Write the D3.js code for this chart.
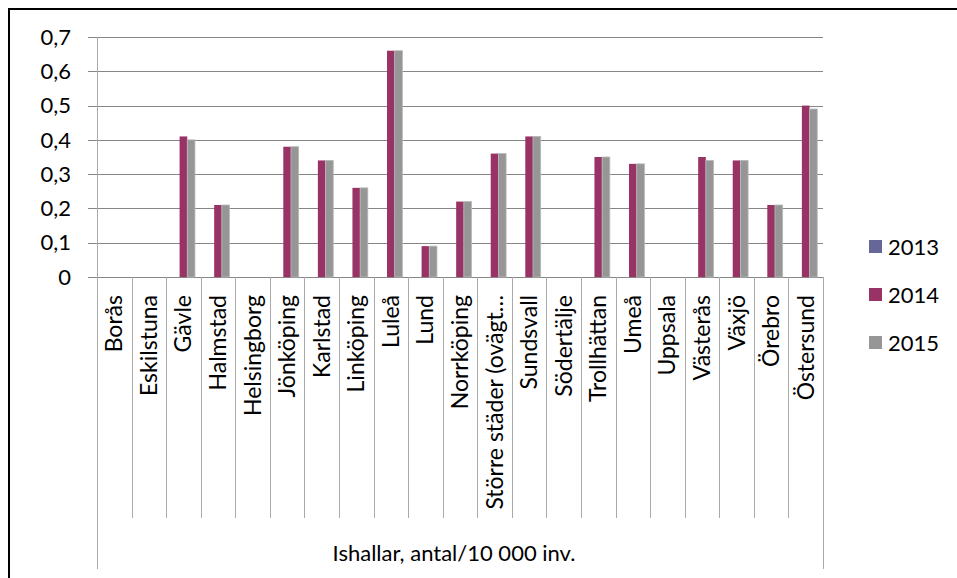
<!DOCTYPE html>
<meta charset="utf-8">
<style>
body { margin: 0; background: #fff; }
text { font-family: Lato, "Open Sans", sans-serif; fill: #000; }
.grid line { stroke: #868686; stroke-width: 1px; }
</style>
<body>
<script src="https://cdn.jsdelivr.net/npm/d3@7"></script>
<script>

var width = 957,
    height = 578;

var cities = ["Borås", "Eskilstuna", "Gävle", "Halmstad", "Helsingborg", "Jönköping",
  "Karlstad", "Linköping", "Luleå", "Lund", "Norrköping", "Större städer (ovägt…",
  "Sundsvall", "Södertälje", "Trollhättan", "Umeå", "Uppsala", "Västerås", "Växjö",
  "Örebro", "Östersund"];

var years = ["2013", "2014", "2015"];
var colors = ["#666699", "#993366", "#969696"];

// null = no value
var v2013 = [null, null, null, null, null, null, null, null, null, null, null,
  null, null, null, null, null, null, null, null, null, null];
var v2014 = [null, null, 0.41, 0.21, null, 0.38, 0.34, 0.26, 0.66, 0.09, 0.22,
  0.36, 0.41, null, 0.35, 0.33, null, 0.35, 0.34, 0.21, 0.50];
var v2015 = [null, null, 0.40, 0.21, null, 0.38, 0.34, 0.26, 0.66, 0.09, 0.22,
  0.36, 0.41, null, 0.35, 0.33, null, 0.34, 0.34, 0.21, 0.49];

var yTicks = [0, 0.1, 0.2, 0.3, 0.4, 0.5, 0.6, 0.7];
var groupLabel = "Ishallar, antal/10 000 inv.";

var series = [v2013, v2014, v2015];

var plot = {left: 97, right: 823, top: 37, bottom: 277};

var svg = d3.select("body").append("svg")
    .attr("width", width)
    .attr("height", height);

// outer frame
svg.append("rect")
    .attr("x", 9).attr("y", 9)
    .attr("width", width + 10).attr("height", height + 10)
    .attr("fill", "none")
    .attr("stroke", "#000")
    .attr("stroke-width", 2);

var x = d3.scaleBand()
    .domain(cities)
    .range([plot.left, plot.right]);

var bw = x.bandwidth() / 4.5;

var xs = d3.scaleBand()
    .domain(years)
    .range([0, bw * 3]);

var y = d3.scaleLinear()
    .domain([0, 0.7])
    .range([plot.bottom, plot.top]);

// gridlines
svg.append("g")
    .attr("class", "grid")
  .selectAll("line")
    .data(yTicks)
  .enter().append("line")
    .attr("x1", plot.left - 9)
    .attr("x2", plot.right)
    .attr("y1", function(d) { return Math.round(y(d)) + 0.5; })
    .attr("y2", function(d) { return Math.round(y(d)) + 0.5; });

// y axis line
svg.append("line")
    .attr("x1", plot.left + 0.5).attr("x2", plot.left + 0.5)
    .attr("y1", plot.top).attr("y2", plot.bottom)
    .attr("stroke", "#aaaaaa");

// y labels
svg.append("g")
  .selectAll("text")
    .data(yTicks)
  .enter().append("text")
    .attr("x", 71)
    .attr("y", function(d) { return y(d); })
    .attr("dy", "0.35em")
    .attr("text-anchor", "end")
    .style("font-size", "22px")
    .text(function(d) { return d === 0 ? "0" : d3.format(".1f")(d).replace(".", ","); });

// bars
years.forEach(function(yr, i) {
  svg.append("g")
    .selectAll("rect")
      .data(series[i].map(function(v, j) { return {c: cities[j], v: v}; })
        .filter(function(d) { return d.v != null; }))
    .enter().append("rect")
      .attr("x", function(d) { return x(d.c) + bw * 0.75 + xs(yr); })
      .attr("y", function(d) { return y(d.v); })
      .attr("width", xs.bandwidth())
      .attr("height", function(d) { return y(0) - y(d.v); })
      .attr("fill", colors[i])
      .attr("stroke", i === 2 ? "#b8b8b8" : "none")
      .attr("stroke-width", 0.8);
});

// category separators
var bounds = d3.range(cities.length + 1).map(function(i) { return plot.left + i * x.step(); });
svg.append("g")
  .selectAll("line")
    .data(bounds)
  .enter().append("line")
    .attr("x1", function(d) { return Math.round(d) + 0.5; })
    .attr("x2", function(d) { return Math.round(d) + 0.5; })
    .attr("y1", plot.bottom)
    .attr("y2", function(d, i) { return (i === 0 || i === cities.length) ? 569 : 518; })
    .attr("stroke", "#aaaaaa");

// category labels
svg.append("g")
  .selectAll("text")
    .data(cities)
  .enter().append("text")
    .attr("transform", function(d) {
      return "translate(" + (x(d) + x.bandwidth() / 2) + ",295) rotate(-90)";
    })
    .attr("dy", "0.35em")
    .attr("text-anchor", "end")
    .style("font-size", "23px")
    .text(function(d) { return d; });

// group label
svg.append("text")
    .attr("x", (plot.left + plot.right) / 2 - 6)
    .attr("y", 553)
    .attr("dy", "0.35em")
    .attr("text-anchor", "middle")
    .style("font-size", "22px")
    .text(groupLabel);

// legend
var legend = svg.append("g")
  .selectAll("g")
    .data(years)
  .enter().append("g")
    .attr("transform", function(d, i) { return "translate(869," + (247 + i * 48) + ")"; });

legend.append("rect")
    .attr("x", 0).attr("y", -7)
    .attr("width", 13).attr("height", 13)
    .attr("fill", function(d, i) { return colors[i]; });

legend.append("text")
    .attr("x", 19)
    .attr("dy", "0.35em")
    .style("font-size", "22px")
    .text(function(d) { return d; });

</script>
